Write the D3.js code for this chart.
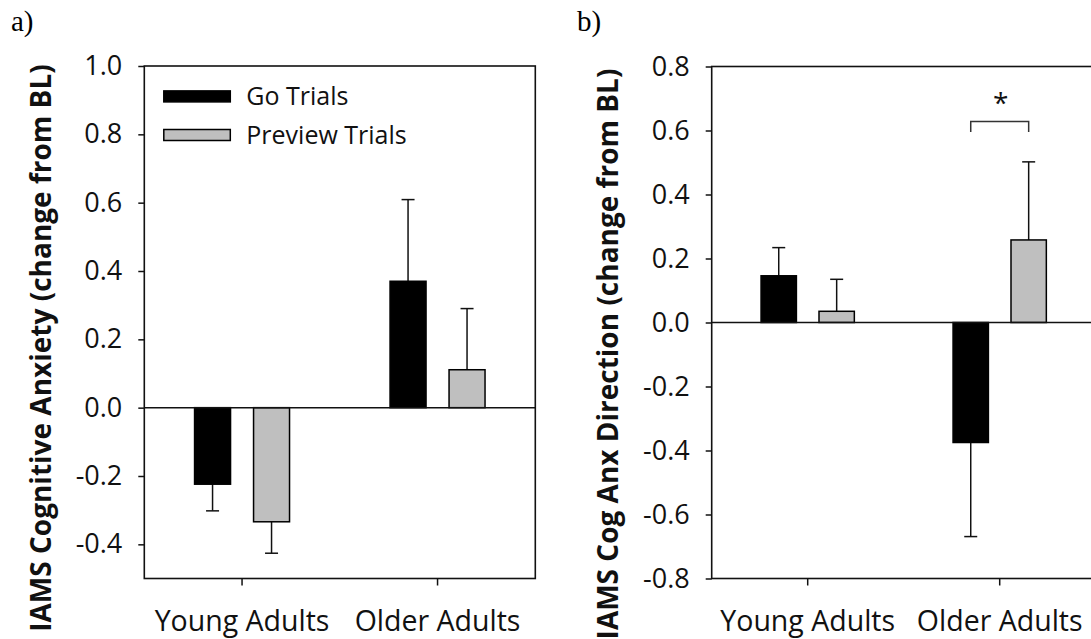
<!DOCTYPE html>
<html>
<head>
<meta charset="utf-8">
<script src="https://cdn.jsdelivr.net/npm/d3@7/dist/d3.min.js"></script>
<style>
  html, body { margin: 0; padding: 0; background: #fff; }
  svg { display: block; }
</style>
</head>
<body>
<svg id="chart" width="1091" height="639"></svg>
<script>
// ---------- data ----------
const categories = ["Young Adults", "Older Adults"];
const seriesNames = ["Go Trials", "Preview Trials"];

// panel a: IAMS Cognitive Anxiety
const anxGo = [-0.224, 0.370];
const anxGoErr = [0.078, 0.239];
const anxPreview = [-0.334, 0.111];
const anxPreviewErr = [0.092, 0.179];
const anxTicks = [-0.4, -0.2, 0.0, 0.2, 0.4, 0.6, 0.8, 1.0];
const anxDomain = [-0.5, 1.0];

// panel b: IAMS Cog Anx Direction
const dirGo = [0.146, -0.375];
const dirGoErr = [0.088, 0.294];
const dirPreview = [0.035, 0.258];
const dirPreviewErr = [0.100, 0.244];
const dirTicks = [-0.8, -0.6, -0.4, -0.2, 0.0, 0.2, 0.4, 0.6, 0.8];
const dirDomain = [-0.8, 0.8];

// significance bracket (panel b, Older Adults)
const sigCategory = "Older Adults";
const sigBracketTop = 0.628;
const sigBracketLeg = 0.595;
const sigLabel = "*";

// ---------- styles ----------
const FONT = "'Open Sans', 'DejaVu Sans', sans-serif";
const colors = { "Go Trials": "#000000", "Preview Trials": "#bfbfbf" };
const INK = "#111";

const svg = d3.select("#chart");
svg.append("rect").attr("width", 1091).attr("height", 639).attr("fill", "#fff");

function drawPanel(opts) {
  const { left, top, width, height, domain, ticks, go, goErr, prev, prevErr, title, titleX, titleY, letter, letterX } = opts;
  const g = svg.append("g").attr("transform", `translate(${left},${top})`);

  const y = d3.scaleLinear().domain(domain).range([height, 0]);
  const x0 = d3.scaleBand().domain(categories).range([0, width]).padding(0);
  const x1 = d3.scaleBand().domain(seriesNames).range([0, x0.bandwidth()])
    .paddingInner(0.39).paddingOuter(0.852);

  const rows = [];
  categories.forEach((c, i) => {
    rows.push({ cat: c, s: "Go Trials", v: go[i], e: goErr[i] });
    rows.push({ cat: c, s: "Preview Trials", v: prev[i], e: prevErr[i] });
  });

  // error bars (single-sided, away from zero)
  const capW = 13;
  const eb = g.append("g").attr("stroke", INK).attr("stroke-width", 1.5).attr("fill", "none");
  rows.forEach(d => {
    const cx = x0(d.cat) + x1(d.s) + x1.bandwidth() / 2;
    const end = d.v >= 0 ? d.v + d.e : d.v - d.e;
    eb.append("line").attr("x1", cx).attr("x2", cx).attr("y1", y(d.v)).attr("y2", y(end));
    eb.append("line").attr("x1", cx - capW / 2).attr("x2", cx + capW / 2).attr("y1", y(end)).attr("y2", y(end));
  });

  // bars
  g.append("g").selectAll("rect").data(rows).join("rect")
    .attr("x", d => x0(d.cat) + x1(d.s))
    .attr("width", x1.bandwidth())
    .attr("y", d => y(Math.max(0, d.v)))
    .attr("height", d => Math.abs(y(d.v) - y(0)))
    .attr("fill", d => colors[d.s])
    .attr("stroke", "#000")
    .attr("stroke-width", 1.5);

  // zero line
  g.append("line").attr("x1", 0).attr("x2", width).attr("y1", y(0)).attr("y2", y(0))
    .attr("stroke", INK).attr("stroke-width", 1.5);

  // frame
  g.append("rect").attr("x", 0).attr("y", 0).attr("width", width).attr("height", height)
    .attr("fill", "none").attr("stroke", INK).attr("stroke-width", 1.6);

  // y axis
  const ya = g.append("g").call(
    d3.axisLeft(y).tickValues(ticks).tickSize(6).tickPadding(16).tickSizeOuter(0)
      .tickFormat(v => (Math.abs(v) < 1e-9 ? 0 : v).toFixed(1))
  );
  ya.select(".domain").remove();
  ya.selectAll(".tick line").attr("stroke", INK).attr("stroke-width", 1.5);
  ya.selectAll(".tick text").attr("font-family", FONT).attr("font-size", 27).attr("fill", INK);

  // x axis
  const xa = g.append("g").attr("transform", `translate(0,${height})`).call(
    d3.axisBottom(x0).tickSize(7).tickPadding(25.5).tickSizeOuter(0)
  );
  xa.select(".domain").remove();
  xa.selectAll(".tick line").attr("stroke", INK).attr("stroke-width", 1.5);
  xa.selectAll(".tick text").attr("font-family", FONT).attr("font-size", 28.5).attr("fill", INK);

  // y title
  svg.append("text")
    .attr("transform", `translate(${titleX},${titleY}) rotate(-90)`)
    .attr("text-anchor", "middle")
    .attr("font-family", FONT).attr("font-weight", "bold").attr("font-size", 28)
    .attr("fill", INK)
    .text(title);

  // panel letter
  svg.append("text").attr("x", letterX).attr("y", 31)
    .attr("font-family", "'Liberation Serif', 'DejaVu Serif', serif").attr("font-size", 29)
    .attr("fill", "#000").text(letter);

  return { g, x0, x1, y };
}

const pa = drawPanel({
  left: 144.3, top: 66, width: 391, height: 512.5,
  domain: anxDomain, ticks: anxTicks,
  go: anxGo, goErr: anxGoErr, prev: anxPreview, prevErr: anxPreviewErr,
  title: "IAMS Cognitive Anxiety (change from BL)", titleX: 51, titleY: 348,
  letter: "a)", letterX: 11
});

const pb = drawPanel({
  left: 711.7, top: 66.5, width: 384, height: 512,
  domain: dirDomain, ticks: dirTicks,
  go: dirGo, goErr: dirGoErr, prev: dirPreview, prevErr: dirPreviewErr,
  title: "IAMS Cog Anx Direction (change from BL)", titleX: 618, titleY: 354,
  letter: "b)", letterX: 577
});

// legend (panel a)
const leg = pa.g.append("g");
seriesNames.forEach((s, i) => {
  const cy = 30.4 + i * 38.6;
  leg.append("rect").attr("x", 19.5).attr("y", cy - 5.5).attr("width", 66.5).attr("height", 11)
    .attr("fill", colors[s]).attr("stroke", "#000").attr("stroke-width", 1.5);
  leg.append("text").attr("x", 102).attr("y", cy + 9)
    .attr("font-family", FONT).attr("font-size", 25).attr("fill", INK).text(s);
});

// significance bracket (panel b)
{
  const { g, x0, x1, y } = pb;
  const xa = x0(sigCategory) + x1("Go Trials") + x1.bandwidth() / 2;
  const xb = x0(sigCategory) + x1("Preview Trials") + x1.bandwidth() / 2;
  g.append("path")
    .attr("d", `M${xa},${y(sigBracketLeg)}V${y(sigBracketTop)}H${xb}V${y(sigBracketLeg)}`)
    .attr("fill", "none").attr("stroke", "#333").attr("stroke-width", 1.5);
  g.append("text").attr("x", (xa + xb) / 2 + 1).attr("y", y(sigBracketTop) - 9)
    .attr("text-anchor", "middle").attr("font-family", FONT).attr("font-size", 28)
    .attr("fill", INK).text(sigLabel);
}
</script>
</body>
</html>
